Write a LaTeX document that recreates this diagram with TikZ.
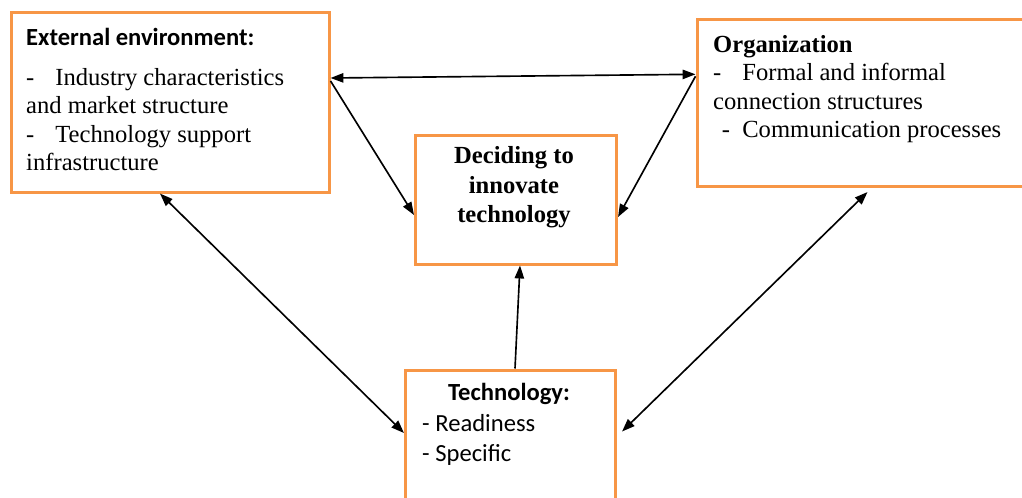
\documentclass[tikz,border=0pt]{standalone}
\usepackage{fontspec}
\setmainfont{Liberation Serif}
\newfontfamily\carlito{Carlito}
\usetikzlibrary{arrows.meta,calc}
\definecolor{boxorange}{HTML}{F79646}

\begin{document}
\begin{tikzpicture}[x=0.03cm, y=-0.03cm,
    box/.style={draw=boxorange, line width=2.6pt, inner sep=0pt, anchor=north west},
    txt/.style={inner sep=0pt, align=left, anchor=north west, font=\fontsize{21}{24.3}\selectfont},
    link/.style={line width=1.4pt, -{Triangle[length=11pt,width=8pt]}},
    both/.style={line width=1.4pt, {Triangle[length=11pt,width=8pt]}-{Triangle[length=11pt,width=8pt]}}]
    \useasboundingbox (0,0) rectangle (1022,498);
    \clip (0,0) rectangle (1022,498);

    % External environment
    \node[box, minimum width=9.525cm, minimum height=5.385cm] (ext) at (10,11) {};
    \node[txt] (exttext) at (26,28) {{\carlito\bfseries External environment:}\\[9.8pt]
        -\hspace{0.85em}Industry characteristics\\
        and market structure\\
        -\hspace{0.85em}Technology support\\
        infrastructure};

    % Organization
    \node[box, minimum width=10.8cm, minimum height=5.0cm] (org) at (695.5,18.3) {};
    \node[txt, font=\fontsize{21}{24}\selectfont] (orgtext) at (713,35.5) {\textbf{Organization}\\
        -\hspace{0.85em}Formal and informal\\
        connection structures\\
        \hspace*{0.35em}-\hspace{0.5em}Communication processes};

    % Decision
    \node[box, minimum width=6.03cm, minimum height=3.87cm] (dec) at (414,133.5) {};
    \node[txt, align=center, anchor=north, font=\fontsize{21}{25.2}\selectfont\bfseries] (dectext) at (514,146.5) {Deciding to\\innovate\\technology};

    % Technology
    \node[box, minimum width=6.3cm, minimum height=4.55cm] (tech) at (404,368.5) {};
    \node[txt, anchor=north, font=\fontsize{21}{25.6}\selectfont\carlito\bfseries] (techtitle) at (509,383) {Technology:};
    \node[txt, font=\fontsize{21}{25.6}\selectfont\carlito] (techlist) at (422,414) {- Readiness\\- Specific};

    % Arrows
    \draw[both] ($(ext.north east)+(0,67)$) -- ($(org.north west)+(0,56)$);
    \draw[link] ($(ext.north east)+(0,70)$) -- ($(dec.north west)+(0,81.5)$);
    \draw[link] ($(org.north west)+(0,58)$) -- ($(dec.north east)+(0,83.5)$);
    \draw[link] ($(tech.north west)+(111,0)$) -- ($(dec.south west)+(106,0)$);
    \draw[both] ($(ext.south west)+(150,0)$) -- ($(tech.north west)+(0,64.5)$);
    \draw[both] ($(org.south west)+(172,4)$) -- ($(tech.north east)+(5,63)$);
\end{tikzpicture}
\end{document}
